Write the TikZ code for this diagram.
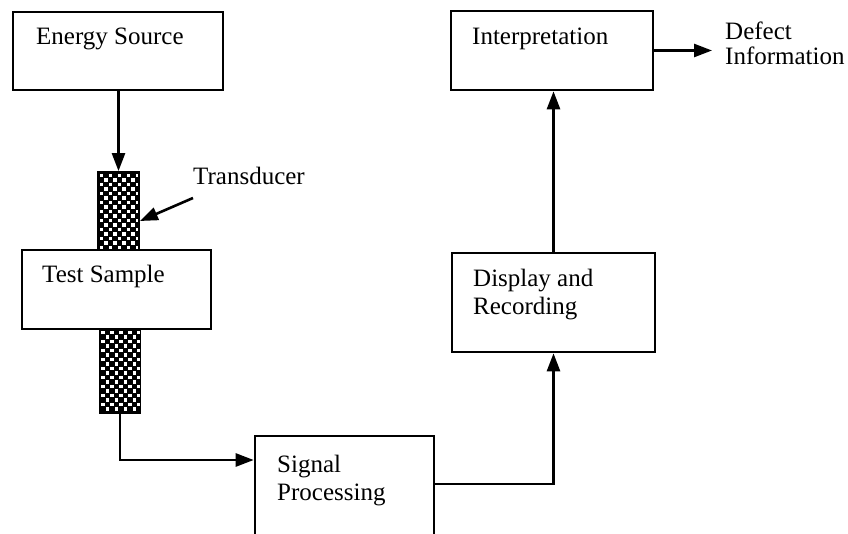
\documentclass[tikz,border=0pt]{standalone}
\usepackage{fontspec}
\setmainfont{Liberation Serif}
\usetikzlibrary{arrows.meta}
\begin{document}
\begin{tikzpicture}[x=1pt,y=-1pt,
  box/.style={draw, line width=2.6pt, fill=white, inner sep=0pt},
  txt/.style={inner sep=0pt, font=\fontsize{25}{28}\selectfont, align=left},
  arr/.style={line width=2.6pt, -{Triangle[length=18pt,width=13pt]}},
  stripbox/.style={draw, line width=1.8pt, fill=black, inner sep=0pt,
    minimum width=41pt,
    path picture={
      \foreach \j in {0,...,20}{
        \pgfmathsetmacro\off{mod(\j,2)*4.5}
        \foreach \i in {0,...,5}{
          \fill[white] ([shift={(\off+\i*9+1.8,\j*4.5+1.8)}]path picture bounding box.north west)
            rectangle ++(3.6,3.6);
        }
      }
    }}]
  \clip (0,0) rectangle (848,534);
  \fill[white] (0,0) rectangle (848,534);

  % transducer strips on both faces of the sample
  \node[stripbox, minimum height=78pt] (up) at (118.5,211) {};
  \node[stripbox, minimum height=84pt] (lo) at (120,371) {};

  % blocks
  \node[box, minimum width=210pt, minimum height=78pt] (es) at (118,51) {};
  \node[box, minimum width=189pt, minimum height=79pt] (ts) at (116.5,289.5) {};
  \node[box, minimum width=179pt, minimum height=110pt] (sp) at (344.5,491) {};
  \node[box, minimum width=203pt, minimum height=99pt] (dr) at (553.5,302.5) {};
  \node[box, minimum width=202pt, minimum height=79pt] (ip) at (552,50.5) {};

  % block texts (multi-line texts are placed by their last baseline)
  \node[txt, anchor=base west] at (36,45) {Energy Source};
  \node[txt, anchor=base west] at (42,283) {Test Sample};
  \node[txt, anchor=base west] at (277,500) {Signal\\Processing};
  \node[txt, anchor=base west] at (473,315) {Display and\\Recording};
  \node[txt, anchor=base west] at (472,45) {Interpretation};
  \node[txt, anchor=base west, font=\fontsize{25}{25}\selectfont] (di) at (725,65) {Defect\\Information};
  \node[txt, anchor=base west] (tr) at (193,185) {Transducer};

  % connectors
  \draw[arr] (es.south -| up.north) -- (up.north);
  \coordinate (spin) at (sp.west |- 0,460);
  \draw[arr] (lo.south) |- (spin);
  \coordinate (spout) at (sp.east |- 0,484);
  \draw[arr] (spout) -| (dr.south);
  \draw[arr] (dr.north) -- (dr.north |- ip.south);
  \coordinate (diin) at (712,50.5);
  \draw[arr] (ip.east) -- (diin);
  \coordinate (trs) at (193,198);
  \draw[arr] (trs) -- ([yshift=-10pt]up.east);
\end{tikzpicture}
\end{document}
